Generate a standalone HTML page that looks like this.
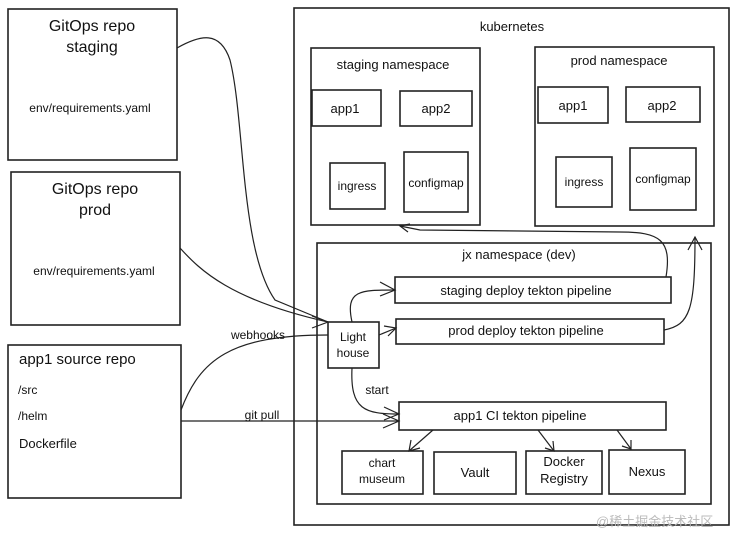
<!DOCTYPE html>
<html><head><meta charset="utf-8"><style>
html,body{margin:0;padding:0;background:#fff;}
svg{display:block;}
text{font-family:"Liberation Sans",sans-serif;fill:#111;}
</style></head><body>
<svg width="739" height="534" viewBox="0 0 739 534" xmlns="http://www.w3.org/2000/svg">
<g fill="none" stroke="#222" stroke-width="1.6">
<!-- left boxes -->
<rect x="8" y="9" width="169" height="151"/>
<rect x="11" y="172" width="169" height="153"/>
<rect x="8" y="345" width="173" height="153"/>
<!-- kubernetes -->
<rect x="294" y="8" width="435" height="517"/>
<rect x="311" y="48" width="169" height="177"/>
<rect x="312" y="90" width="69" height="36"/>
<rect x="400" y="91" width="72" height="35"/>
<rect x="330" y="163" width="55" height="46"/>
<rect x="404" y="152" width="64" height="60"/>
<rect x="535" y="47" width="179" height="179"/>
<rect x="538" y="87" width="70" height="36"/>
<rect x="626" y="87" width="74" height="35"/>
<rect x="556" y="157" width="56" height="50"/>
<rect x="630" y="148" width="66" height="62"/>
<!-- jx -->
<rect x="317" y="243" width="394" height="261"/>
<rect x="395" y="277" width="276" height="26"/>
<rect x="396" y="319" width="268" height="25"/>
<rect x="328" y="322" width="51" height="46"/>
<rect x="399" y="402" width="267" height="28"/>
<rect x="342" y="451" width="81" height="43"/>
<rect x="434" y="452" width="82" height="42"/>
<rect x="526" y="451" width="76" height="43"/>
<rect x="609" y="450" width="76" height="44"/>
</g>
<g fill="none" stroke="#222" stroke-width="1.2">
<!-- connectors from left -->
<path d="M177 48 C200 35 220 30 230 60 C245 120 240 250 275 300 L328 322"/>
<path d="M180 248 C200 270 230 300 328 322"/>
<path d="M181 410 C200 360 230 335 328 335"/>
<path d="M181 421 L399 421"/>
<path d="M312 316 L328 322 L312 328"/>
<path d="M383 414 L399 421 L383 428"/>
<!-- lighthouse arrows -->
<path d="M352 322 C345 290 360 290 395 290"/>
<path d="M380 282 L395 290 L380 296"/>
<path d="M379 335 L396 328"/>
<path d="M384 326 L396 328 L388 336"/>
<path d="M352 368 C350 410 365 414 399 414"/>
<path d="M384 407 L399 414 L384 420"/>
<!-- to namespaces -->
<path d="M666 277 C672 240 660 232 620 232 L420 230 L400 226"/>
<path d="M410 224 L400 226 L408 232"/>
<path d="M664 330 C690 325 695 310 695 237"/>
<path d="M688 250 L695 237 L702 250"/>
<!-- CI to bottom -->
<path d="M433 430 L409 451"/><path d="M411 440 L409 451 L420 448"/>
<path d="M538 430 L554 451"/><path d="M545 448 L554 451 L553 441"/>
<path d="M617 430 L631 449"/><path d="M622 446 L631 449 L631 440"/>
</g>
<g font-size="14" text-anchor="middle">
<text x="92" y="31" font-size="16">GitOps repo</text>
<text x="92" y="52" font-size="16">staging</text>
<text x="90" y="112" font-size="12">env/requirements.yaml</text>
<text x="95" y="194" font-size="16">GitOps repo</text>
<text x="95" y="215" font-size="16">prod</text>
<text x="94" y="275" font-size="12">env/requirements.yaml</text>
<text x="512" y="31" font-size="13">kubernetes</text>
<text x="393" y="69" font-size="13">staging namespace</text>
<text x="345" y="113" font-size="13">app1</text>
<text x="436" y="113" font-size="13">app2</text>
<text x="357" y="190" font-size="12">ingress</text>
<text x="436" y="187" font-size="12">configmap</text>
<text x="619" y="65" font-size="13">prod namespace</text>
<text x="573" y="110" font-size="13">app1</text>
<text x="662" y="110" font-size="13">app2</text>
<text x="584" y="186" font-size="12">ingress</text>
<text x="663" y="183" font-size="12">configmap</text>
<text x="519" y="259" font-size="13">jx namespace (dev)</text>
<text x="526" y="295" font-size="13">staging deploy tekton pipeline</text>
<text x="526" y="335" font-size="13">prod deploy tekton pipeline</text>
<text x="353" y="341" font-size="12">Light</text>
<text x="353" y="357" font-size="12">house</text>
<text x="377" y="394" font-size="12">start</text>
<text x="520" y="420" font-size="13">app1 CI tekton pipeline</text>
<text x="382" y="467" font-size="12">chart</text>
<text x="382" y="483" font-size="12">museum</text>
<text x="475" y="477" font-size="13">Vault</text>
<text x="564" y="466" font-size="13">Docker</text>
<text x="564" y="483" font-size="13">Registry</text>
<text x="647" y="476" font-size="13">Nexus</text>
<text x="258" y="339" font-size="12">webhooks</text>
<text x="262" y="419" font-size="12">git pull</text>
</g>
<g font-size="14">
<text x="19" y="364" font-size="15">app1 source repo</text>
<text x="18" y="394" font-size="12">/src</text>
<text x="18" y="420" font-size="12">/helm</text>
<text x="19" y="448" font-size="13">Dockerfile</text>
</g>
<text x="596" y="526" font-size="13" fill="#bbb" style="fill:#bbb;font-family:'Liberation Sans','Noto Sans CJK SC',sans-serif">@稀土掘金技术社区</text>
</svg>
</body></html>
